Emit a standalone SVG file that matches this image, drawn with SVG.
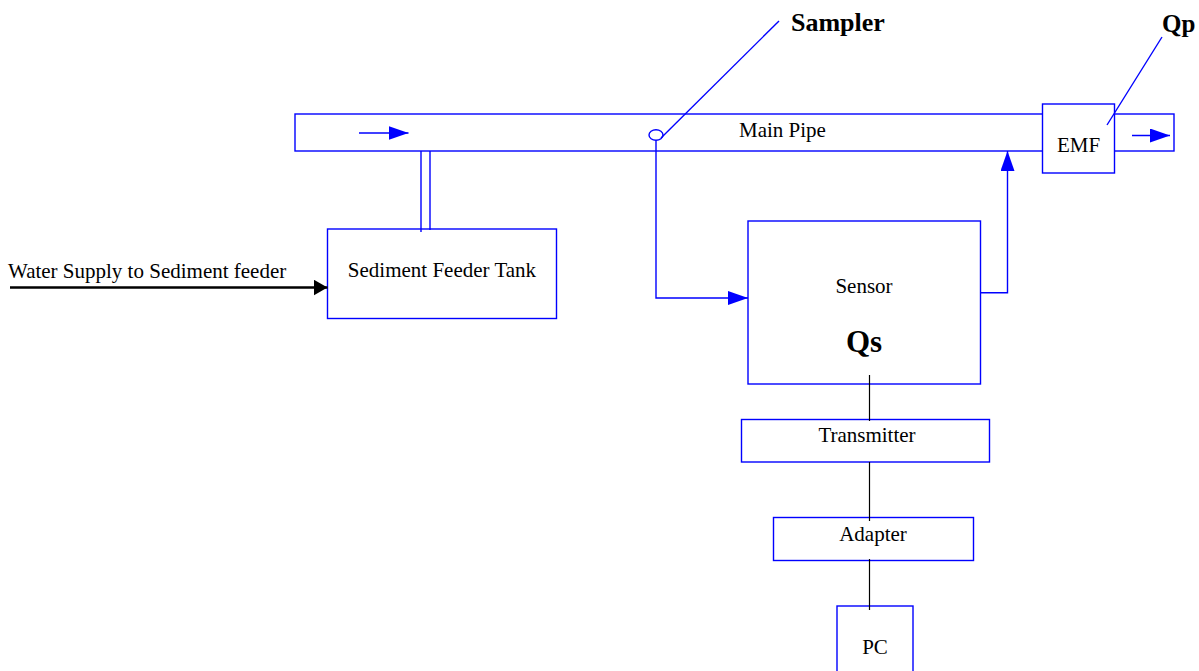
<svg xmlns="http://www.w3.org/2000/svg" width="1199" height="671" viewBox="0 0 1199 671">
<style>
.box{fill:#fff;stroke:#0000ff;stroke-width:1.4}
.bl{fill:none;stroke:#0000ff;stroke-width:1.4}
.k{fill:none;stroke:#000;stroke-width:1.2}
text{font-family:'Liberation Serif',serif;fill:#000}
.t{font-size:21px;text-anchor:middle}
.b{font-weight:bold}
</style>
<defs>
<marker id="ab" viewBox="0 0 20 14" refX="20" refY="7" markerWidth="20" markerHeight="14" markerUnits="userSpaceOnUse" orient="auto"><path d="M0,0 L20,7 L0,14 Z" fill="#0000ff"/></marker>
<marker id="ak" viewBox="0 0 14 16" refX="14" refY="8" markerWidth="14" markerHeight="16" markerUnits="userSpaceOnUse" orient="auto"><path d="M0,0 L14,8 L0,16 Z" fill="#000"/></marker>
</defs>
<g id="main-pipe">
<rect class="box" x="295" y="114" width="879" height="37"/>
<text class="t" x="782.5" y="137" font-family="Liberation Serif, serif">Main Pipe</text>
</g>
<g id="emf">
<rect class="box" x="1042.5" y="104" width="72" height="69"/>
<text class="t" x="1078.5" y="152" font-family="Liberation Serif, serif">EMF</text>
</g>
<g id="sediment-tank">
<rect class="box" x="327.5" y="229" width="229" height="89.5"/>
<text class="t" x="442" y="277" font-family="Liberation Serif, serif">Sediment Feeder Tank</text>
</g>
<g id="sensor">
<rect class="box" x="748" y="221" width="232.5" height="163"/>
<text class="t" x="864" y="293" font-family="Liberation Serif, serif">Sensor</text>
<text class="b" x="864" y="352" font-size="31" text-anchor="middle" font-family="Liberation Serif, serif">Qs</text>
</g>
<g id="transmitter">
<rect class="box" x="741.5" y="419.5" width="248" height="42.5"/>
<text class="t" x="867" y="442" font-family="Liberation Serif, serif">Transmitter</text>
</g>
<g id="adapter">
<rect class="box" x="773.5" y="517.5" width="200" height="43"/>
<text class="t" x="873" y="541" font-family="Liberation Serif, serif">Adapter</text>
</g>
<g id="pc">
<rect class="box" x="837" y="606" width="76" height="70"/>
<text class="t" x="875" y="654" font-family="Liberation Serif, serif">PC</text>
</g>
<g id="sampler">
<ellipse class="bl" cx="656" cy="135" rx="7" ry="5.3"/>
<text class="b" x="791" y="31" font-size="26" font-family="Liberation Serif, serif">Sampler</text>
</g>
<g id="qp">
<text class="b" x="1162" y="32" font-size="25" font-family="Liberation Serif, serif">Qp</text>
</g>
<g id="connectors">
<line class="bl" x1="359" y1="133" x2="408.5" y2="133" marker-end="url(#ab)"/>
<line class="bl" x1="1132" y1="135.5" x2="1170" y2="135.5" marker-end="url(#ab)"/>
<line class="bl" x1="661" y1="138" x2="779" y2="21"/>
<line class="bl" x1="1107" y1="125" x2="1162" y2="37"/>
<line class="bl" x1="421" y1="151" x2="421" y2="232"/>
<line class="bl" x1="430" y1="151" x2="430" y2="230"/>
<polyline class="bl" points="656,140.5 656,298 748,298" marker-end="url(#ab)"/>
<polyline class="bl" points="980.5,292.7 1007.5,292.7 1007.5,151" marker-end="url(#ab)"/>
<line x1="10" y1="287.5" x2="327.5" y2="287.5" stroke="#000" stroke-width="2.6" marker-end="url(#ak)"/>
<text x="8" y="278" font-size="21" font-family="Liberation Serif, serif">Water Supply to Sediment feeder</text>
<line class="k" x1="869.5" y1="375" x2="869.5" y2="421"/>
<line class="k" x1="869.5" y1="462" x2="869.5" y2="521"/>
<line class="k" x1="869.5" y1="559" x2="869.5" y2="610"/>
</g>
</svg>
